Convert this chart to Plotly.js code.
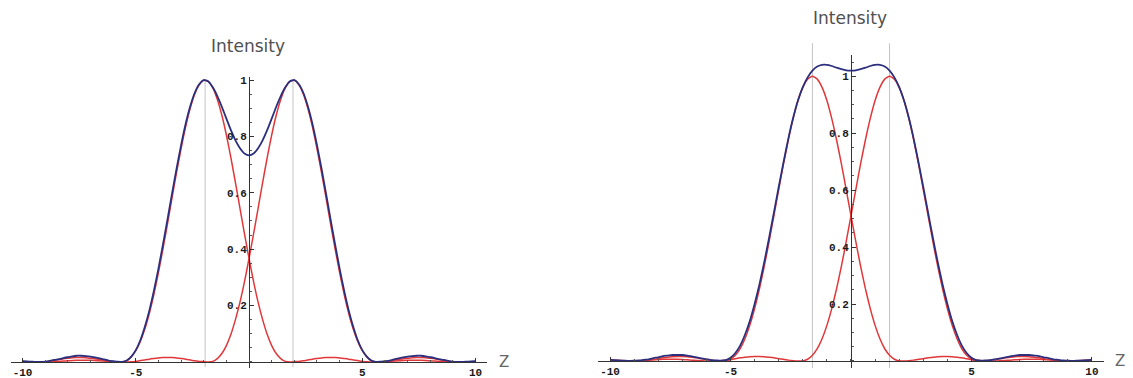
<!DOCTYPE html>
<html>
<head>
<meta charset="utf-8">
<script src="https://cdn.plot.ly/plotly-3.0.1.min.js"></script>
<style>html,body{margin:0;padding:0;background:#fff;}#chart{width:1133px;height:378px;}</style>
</head>
<body>
<div id="chart"></div>
<script>
// Shared z grid
const z = [-10,-9.8,-9.6,-9.4,-9.2,-9,-8.8,-8.6,-8.4,-8.2,-8,-7.8,-7.6,-7.4,-7.2,-7,-6.8,-6.6,-6.4,-6.2,
-6,-5.8,-5.6,-5.4,-5.2,-5,-4.8,-4.6,-4.4,-4.2,-4,-3.8,-3.6,-3.4,-3.2,-3,-2.8,-2.6,-2.4,-2.2,
-2,-1.8,-1.6,-1.4,-1.2,-1,-0.8,-0.6,-0.4,-0.2,0,
0.2,0.4,0.6,0.8,1,1.2,1.4,1.6,1.8,2,2.2,2.4,2.6,2.8,3,3.2,3.4,3.6,3.8,4,
4.2,4.4,4.6,4.8,5,5.2,5.4,5.6,5.8,6,6.2,6.4,6.6,6.8,7,7.2,7.4,7.6,7.8,8,
8.2,8.4,8.6,8.8,9,9.2,9.4,9.6,9.8,10];

// Left panel (well separated sources)
const leftRedA = [0.002,0.001,0.000,0.000,0.000,0.001,0.003,0.006,0.008,0.011,
0.013,0.015,0.016,0.016,0.015,0.013,0.011,0.009,0.006,0.003,
0.001,0.000,0.000,0.005,0.018,0.040,0.073,0.117,0.173,0.240,
0.317,0.401,0.490,0.582,0.672,0.757,0.834,0.899,0.950,0.983,
0.999,0.995,0.972,0.931,0.875,0.805,0.724,0.636,0.545,0.454,
0.367,
0.285,0.212,0.150,0.098,0.058,0.030,0.012,0.002,0.000,0.001,
0.002,0.004,0.007,0.010,0.012,0.014,0.016,0.016,0.016,0.014,
0.012,0.010,0.007,0.005,0.002,0.001,0.000,0.000,0.001,0.001,
0.002,0.003,0.004,0.005,0.006,0.006,0.006,0.006,0.005,0.004,
0.003,0.002,0.001,0.001,0.000,0.000,0.000,0.000,0.001,0.001];
const leftRedB = [0.001,0.001,0.000,0.000,0.000,0.000,0.001,0.001,0.002,0.003,
0.004,0.005,0.006,0.006,0.006,0.006,0.005,0.004,0.003,0.002,
0.001,0.001,0.000,0.000,0.001,0.002,0.005,0.007,0.010,0.012,
0.014,0.016,0.016,0.016,0.014,0.012,0.010,0.007,0.004,0.002,
0.001,0.000,0.002,0.012,0.030,0.058,0.098,0.150,0.212,0.285,
0.367,
0.454,0.545,0.636,0.724,0.805,0.875,0.931,0.972,0.995,0.999,
0.983,0.950,0.899,0.834,0.757,0.672,0.582,0.490,0.401,0.317,
0.240,0.173,0.117,0.073,0.040,0.018,0.005,0.000,0.000,0.001,
0.003,0.006,0.009,0.011,0.013,0.015,0.016,0.016,0.015,0.013,
0.011,0.008,0.006,0.003,0.001,0.000,0.000,0.000,0.001,0.002];
const leftSum = [0.003,0.002,0.001,0.000,0.000,0.001,0.004,0.007,0.010,0.014,
0.017,0.020,0.022,0.022,0.021,0.019,0.016,0.013,0.009,0.005,
0.003,0.001,0.000,0.005,0.019,0.042,0.077,0.125,0.183,0.253,
0.331,0.417,0.506,0.597,0.686,0.769,0.844,0.906,0.954,0.985,
1.000,0.995,0.974,0.943,0.905,0.863,0.822,0.786,0.758,0.739,
0.733,
0.739,0.758,0.786,0.822,0.863,0.905,0.943,0.974,0.995,1.000,
0.985,0.954,0.906,0.844,0.769,0.686,0.597,0.506,0.417,0.331,
0.253,0.183,0.125,0.077,0.042,0.019,0.005,0.000,0.001,0.003,
0.005,0.009,0.013,0.016,0.019,0.021,0.022,0.022,0.020,0.017,
0.014,0.010,0.007,0.004,0.001,0.000,0.000,0.001,0.002,0.003];
const leftMarks = [-1.94, 1.94];

// Right panel (closer sources)
const rightRedA = [0.004,0.003,0.002,0.001,0.000,0.000,0.000,0.001,0.003,0.005,
0.008,0.011,0.013,0.015,0.016,0.016,0.015,0.013,0.011,0.008,
0.006,0.003,0.001,0.000,0.000,0.006,0.020,0.043,0.078,0.125,
0.184,0.253,0.332,0.419,0.510,0.602,0.693,0.777,0.852,0.915,
0.961,0.990,1.000,0.990,0.961,0.915,0.852,0.777,0.693,0.602,
0.510,
0.419,0.332,0.253,0.184,0.125,0.078,0.043,0.020,0.006,0.000,
0.000,0.001,0.003,0.006,0.008,0.011,0.013,0.015,0.016,0.016,
0.015,0.013,0.011,0.008,0.005,0.003,0.001,0.000,0.000,0.000,
0.001,0.002,0.003,0.004,0.005,0.006,0.006,0.006,0.006,0.005,
0.004,0.003,0.002,0.001,0.001,0.000,0.000,0.000,0.000,0.001];
const rightRedB = [0.001,0.000,0.000,0.000,0.000,0.001,0.001,0.002,0.003,0.004,
0.005,0.006,0.006,0.006,0.006,0.005,0.004,0.003,0.002,0.001,
0.000,0.000,0.000,0.001,0.003,0.005,0.008,0.011,0.013,0.015,
0.016,0.016,0.015,0.013,0.011,0.008,0.006,0.003,0.001,0.000,
0.000,0.006,0.020,0.043,0.078,0.125,0.184,0.253,0.332,0.419,
0.510,
0.602,0.693,0.777,0.852,0.915,0.961,0.990,1.000,0.990,0.961,
0.915,0.852,0.777,0.693,0.602,0.510,0.419,0.332,0.253,0.184,
0.125,0.078,0.043,0.020,0.006,0.000,0.000,0.001,0.003,0.006,
0.008,0.011,0.013,0.015,0.016,0.016,0.015,0.013,0.011,0.008,
0.005,0.003,0.001,0.000,0.000,0.000,0.001,0.002,0.003,0.004];
const rightSum = [0.005,0.003,0.002,0.001,0.000,0.001,0.002,0.004,0.006,0.010,
0.013,0.017,0.019,0.021,0.021,0.021,0.019,0.016,0.013,0.009,
0.006,0.003,0.002,0.001,0.003,0.011,0.028,0.054,0.092,0.140,
0.200,0.269,0.347,0.432,0.521,0.611,0.698,0.781,0.854,0.915,
0.962,0.996,1.020,1.034,1.040,1.040,1.036,1.030,1.025,1.021,
1.020,
1.021,1.025,1.030,1.036,1.040,1.040,1.034,1.020,0.996,0.962,
0.915,0.854,0.781,0.698,0.611,0.521,0.432,0.347,0.269,0.200,
0.140,0.092,0.054,0.028,0.011,0.003,0.001,0.002,0.003,0.006,
0.009,0.013,0.016,0.019,0.021,0.021,0.021,0.019,0.017,0.013,
0.010,0.006,0.004,0.002,0.001,0.000,0.001,0.002,0.003,0.005];
const rightMarks = [-1.6, 1.6];

// Tick labels
const xTickVals = [-10, -5, 5, 10];
const xTickText = ['-10', '-5', '5', '10'];
const yTickVals = [0.2, 0.4, 0.6, 0.8, 1];
const yTickText = ['0.2', '0.4', '0.6', '0.8', '1'];
const titleText = 'Intensity';
const axisLabel = 'Z';

const RED = '#e0383a';
const BLUE = '#2b2f7e';

function curve(x, y, xa, ya, color, w) {
  return {x: x, y: y, xaxis: xa, yaxis: ya, type: 'scatter', mode: 'lines',
    line: {color: color, width: w, shape: 'spline', smoothing: 0.5}, hoverinfo: 'skip'};
}

const traces = [
  curve(z, leftRedA, 'x', 'y', RED, 1.5),
  curve(z, leftRedB, 'x', 'y', RED, 1.5),
  curve(z, leftSum, 'x', 'y', BLUE, 1.8),
  curve(z, rightRedA, 'x2', 'y2', RED, 1.5),
  curve(z, rightRedB, 'x2', 'y2', RED, 1.5),
  curve(z, rightSum, 'x2', 'y2', BLUE, 1.8)
];

const tickFont = {family: 'Liberation Mono, DejaVu Sans Mono, monospace', size: 11, color: '#1a1a1a', weight: 'bold'};

function xAxis(domain, pos) {
  return {domain: domain, range: [-10.5, 10.5], anchor: 'free', position: pos,
    showline: true, linecolor: '#333', linewidth: 1.2, zeroline: false, showgrid: false,
    ticks: 'inside', ticklen: 4, tickcolor: '#333', tickwidth: 1,
    tickmode: 'array', tickvals: xTickVals, ticktext: xTickText, tickfont: tickFont,
    minor: {dtick: 1, tick0: 0, ticks: 'inside', ticklen: 2, tickcolor: '#555', showgrid: false},
    fixedrange: true};
}
function yAxis(domain, range, pos) {
  return {domain: domain, range: range, anchor: 'free', position: pos,
    showline: true, linecolor: '#333', linewidth: 1.2, zeroline: false, showgrid: false,
    ticks: 'inside', ticklen: 4, tickcolor: '#333', tickwidth: 1,
    tickmode: 'array', tickvals: yTickVals, ticktext: yTickText, tickfont: tickFont,
    minor: {dtick: 0.05, tick0: 0, ticks: 'inside', ticklen: 2, tickcolor: '#555', showgrid: false},
    fixedrange: true};
}

const shapes = [];
leftMarks.forEach(function (m) {
  shapes.push({type: 'line', xref: 'x', yref: 'y', x0: m, x1: m, y0: -0.02, y1: 1.0,
    line: {color: '#c4c4c4', width: 1}, layer: 'below'});
});
rightMarks.forEach(function (m) {
  shapes.push({type: 'line', xref: 'x2', yref: 'paper', x0: m, x1: m, y0: 0.026, y1: 0.886,
    line: {color: '#c4c4c4', width: 1}, layer: 'below'});
});

const titleFont = {family: 'DejaVu Sans, sans-serif', size: 17, color: '#505050'};
const zFont = {family: 'DejaVu Sans, sans-serif', size: 15, color: '#666'};

const layout = {
  width: 1133, height: 378,
  margin: {l: 0, r: 0, t: 0, b: 0},
  paper_bgcolor: '#ffffff', plot_bgcolor: 'rgba(0,0,0,0)',
  showlegend: false,
  xaxis: xAxis([0.0099, 0.4297], 0.0423),
  yaxis: yAxis([0.0275, 0.7958], [-0.02, 1.01], 0.2198),
  xaxis2: xAxis([0.5278, 0.9744], 0.045),
  yaxis2: yAxis([0.0262, 0.854], [-0.025, 1.074], 0.7511),
  shapes: shapes,
  annotations: [
    {text: titleText, xref: 'paper', yref: 'paper', x: 0.2189, y: 0.878, showarrow: false,
      xanchor: 'center', yanchor: 'middle', font: titleFont},
    {text: titleText, xref: 'paper', yref: 'paper', x: 0.750, y: 0.952, showarrow: false,
      xanchor: 'center', yanchor: 'middle', font: titleFont},
    {text: axisLabel, xref: 'paper', yref: 'paper', x: 0.4445, y: 0.0423, showarrow: false,
      xanchor: 'center', yanchor: 'middle', font: zFont},
    {text: axisLabel, xref: 'paper', yref: 'paper', x: 0.9885, y: 0.045, showarrow: false,
      xanchor: 'center', yanchor: 'middle', font: zFont}
  ]
};

Plotly.newPlot('chart', traces, layout, {displayModeBar: false, staticPlot: true});
</script>
</body>
</html>
